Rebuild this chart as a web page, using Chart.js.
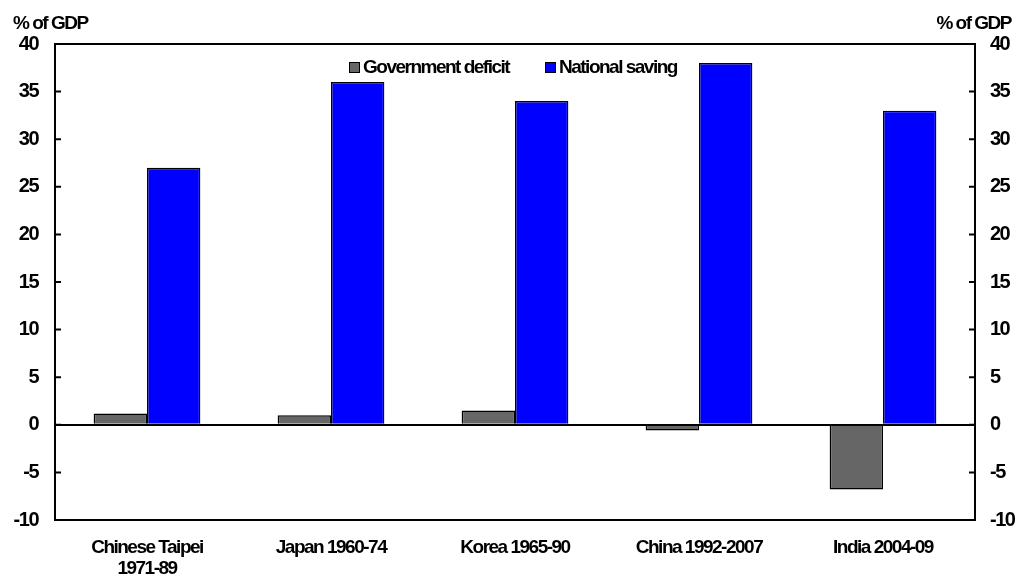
<!DOCTYPE html>
<html lang="en">
<head>
<meta charset="UTF-8">
<title>Deficit and saving</title>
<script src="https://cdn.jsdelivr.net/npm/chart.js@4"></script>
<style>
  html, body { margin: 0; padding: 0; background: #fff; }
  #wrap { width: 1024px; height: 579px; }
</style>
</head>
<body>
<div id="wrap"><canvas id="myChart" width="1024" height="579"></canvas></div>
<script>
// Data
const categories = [['Chinese Taipei', '1971-89'], 'Japan 1960-74', 'Korea 1965-90', 'China 1992-2007', 'India 2004-09'];
const govDeficit = [1.2, 1.0, 1.5, -0.6, -6.8];
const nationalSaving = [27, 36, 34, 38, 33];
const yTicks = [40, 35, 30, 25, 20, 15, 10, 5, 0, -5, -10];
const unitLabel = '% of GDP';

const FONT = 'Liberation Sans, Arial, sans-serif';

// tighter tracking on all canvas text
const tightText = {
  id: 'tightText',
  beforeDraw(chart) { chart.ctx.letterSpacing = '-1.5px'; }
};

// frame, inward tick marks, unit labels and legend inside the plot
const decorations = {
  id: 'decorations',
  afterDraw(chart) {
    const ctx = chart.ctx;
    const a = chart.chartArea;
    const y = chart.scales.y;
    ctx.save();
    ctx.letterSpacing = '-1.5px';
    ctx.strokeStyle = '#000';
    ctx.lineWidth = 2;
    ctx.strokeRect(a.left, a.top, a.right - a.left, a.bottom - a.top);
    ctx.beginPath();
    yTicks.forEach(v => {
      const py = y.getPixelForValue(v);
      ctx.moveTo(a.left, py); ctx.lineTo(a.left + 6, py);
      ctx.moveTo(a.right, py); ctx.lineTo(a.right - 6, py);
    });
    ctx.stroke();

    ctx.fillStyle = '#000';
    ctx.font = 'bold 19px ' + FONT;
    ctx.textBaseline = 'middle';
    ctx.textAlign = 'left';
    ctx.fillText(unitLabel, 13, 24);
    ctx.textAlign = 'right';
    ctx.fillText(unitLabel, 1011, 24);

    // legend
    ctx.textAlign = 'left';
    const items = chart.data.datasets.map(d => ({ text: d.label, color: d.backgroundColor }));
    const xs = [349, 545];
    items.forEach((it, i) => {
      const x0 = xs[i];
      ctx.fillStyle = it.color;
      ctx.fillRect(x0, 62, 11, 11);
      ctx.lineWidth = 1;
      ctx.strokeStyle = '#000';
      ctx.strokeRect(x0 + 0.5, 62.5, 10, 10);
      ctx.fillStyle = '#000';
      ctx.fillText(it.text, x0 + 14, 68);
    });
    ctx.restore();
  }
};

const ctx = document.getElementById('myChart').getContext('2d');
const myChart = new Chart(ctx, {
  type: 'bar',
  data: {
    labels: categories,
    datasets: [
      {
        label: 'Government deficit',
        data: govDeficit,
        backgroundColor: '#666666',
        borderColor: '#000000',
        borderWidth: 1.5,
        categoryPercentage: 0.58,
        barPercentage: 1.0
      },
      {
        label: 'National saving',
        data: nationalSaving,
        backgroundColor: '#0000ff',
        borderColor: '#000000',
        borderWidth: 1.5,
        categoryPercentage: 0.58,
        barPercentage: 1.0
      }
    ]
  },
  options: {
    responsive: false,
    animation: false,
    layout: { padding: { top: 44, left: 0, right: 0, bottom: 0 } },
    plugins: {
      legend: { display: false },
      tooltip: { enabled: false }
    },
    scales: {
      x: {
        grid: { display: false, drawTicks: false },
        border: { display: false },
        ticks: {
          color: '#000',
          font: { family: FONT, size: 19, weight: 'bold', lineHeight: 1.1 },
          padding: 17,
          maxRotation: 0,
          autoSkip: false
        },
        afterFit(scale) { scale.height = 59; }
      },
      y: {
        position: 'left',
        min: -10,
        max: 40,
        afterBuildTicks(scale) { scale.ticks = yTicks.map(v => ({ value: v })); },
        grid: {
          drawTicks: false,
          color: c => (c.tick && c.tick.value === 0) ? '#000' : 'rgba(0,0,0,0)',
          lineWidth: 2
        },
        border: { display: false },
        ticks: {
          color: '#000',
          font: { family: FONT, size: 20, weight: 'bold' },
          padding: 17
        },
        afterFit(scale) { scale.width = 55; }
      },
      y2: {
        position: 'right',
        min: -10,
        max: 40,
        afterBuildTicks(scale) { scale.ticks = yTicks.map(v => ({ value: v })); },
        grid: { display: false, drawTicks: false },
        border: { display: false },
        ticks: {
          color: '#000',
          font: { family: FONT, size: 20, weight: 'bold' },
          padding: 15
        },
        afterFit(scale) { scale.width = 49; }
      }
    }
  },
  plugins: [tightText, decorations]
});
</script>
</body>
</html>
